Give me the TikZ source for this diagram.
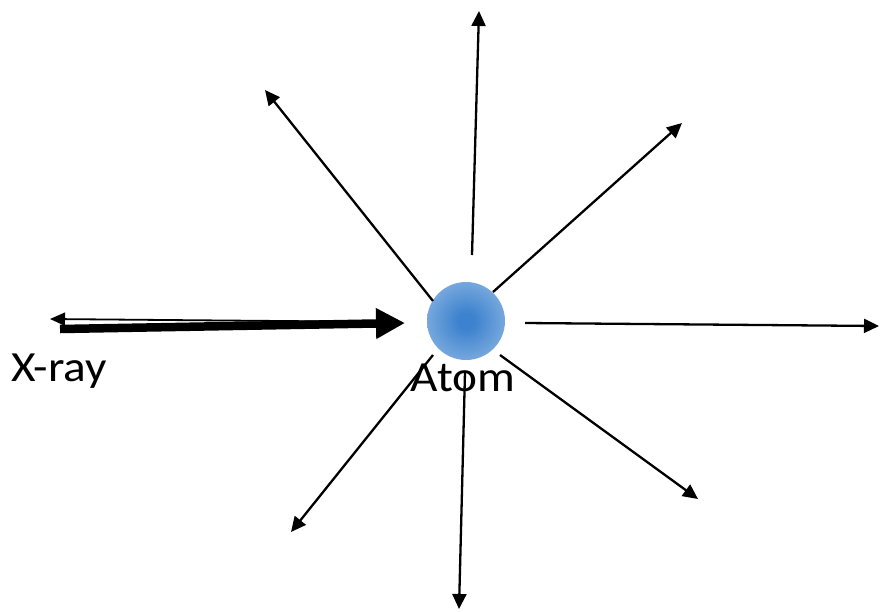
\documentclass[tikz,border=0pt]{standalone}
\usepackage{fontspec}
\setmainfont{Carlito}
\usetikzlibrary{arrows.meta}
\definecolor{atomin}{RGB}{60,130,206}
\definecolor{atomout}{RGB}{190,214,240}
\pgfdeclareradialshading{atomshade}{\pgfpoint{0bp}{0bp}}{color(0bp)=(atomin); color(5bp)=(atomin); color(50bp)=(atomout)}
\tikzset{
  ray/.style={line width=2.3pt,-{Triangle[length=15pt,width=14pt]}},
  lbl/.style={inner sep=0pt,font=\fontsize{43}{50}\selectfont,xscale=1.1},
}
\begin{document}
\begin{tikzpicture}[x=1pt,y=-1pt]
\useasboundingbox (0,0) rectangle (881,611);
\node[circle,minimum size=78pt,inner sep=0pt,shading=atomshade] (atom) at (466,321) {};
% rays
\coordinate (s1) at (472,255); \coordinate (t1) at (479,11);
\coordinate (s2) at (433,301); \coordinate (t2) at (265,90);
\coordinate (s3) at (493,292); \coordinate (t3) at (682,123);
\coordinate (s4) at (525,323); \coordinate (t4) at (879,326);
\coordinate (s5) at (500,355); \coordinate (t5) at (698,499);
\coordinate (s6) at (465,372); \coordinate (t6) at (459,609);
\coordinate (s7) at (433,355); \coordinate (t7) at (291,532);
\foreach \i in {1,...,7} \draw[ray] (s\i) -- (t\i);
% X-ray arrows
\coordinate (xa) at (60,329); \coordinate (xb) at (405,323);
\coordinate (xc) at (398,322); \coordinate (xd) at (50,319);
\draw[line width=8.5pt,-{Triangle[length=29pt,width=29pt]}] (xa) -- (xb);
\draw[line width=1.8pt,-{Triangle[length=15pt,width=13pt]}] (xc) -- (xd);
% labels
\node[lbl,anchor=base] (atomlbl) at (463,391) {Atom};
\node[lbl,anchor=base west] (xlbl) at (11,381) {X-ray};
\end{tikzpicture}
\end{document}
